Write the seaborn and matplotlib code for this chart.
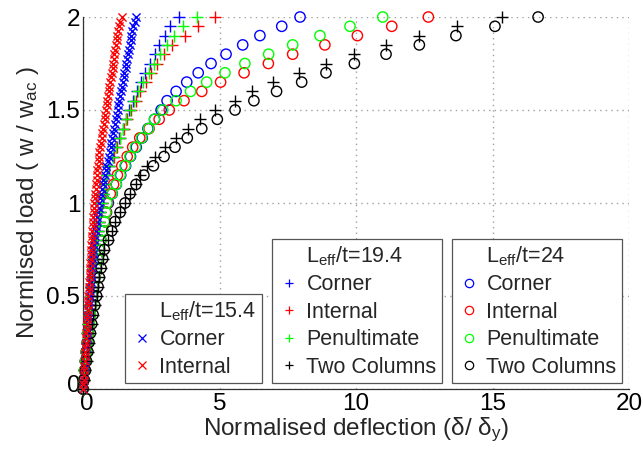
import matplotlib
matplotlib.use("Agg")
import matplotlib.pyplot as plt
import matplotlib.transforms as mtransforms
from matplotlib.lines import Line2D
import seaborn as sns

# ---------------- data ----------------
# load levels (normalised load w/w_ac)
load_step05 = [0.00, 0.05, 0.10, 0.15, 0.20, 0.25, 0.30, 0.35, 0.40, 0.45,
               0.50, 0.55, 0.60, 0.65, 0.70, 0.75, 0.80, 0.85, 0.90, 0.95,
               1.00, 1.05, 1.10, 1.15, 1.20, 1.25, 1.30, 1.35, 1.40, 1.45,
               1.50, 1.55, 1.60, 1.65, 1.70, 1.75, 1.80, 1.85, 1.90, 1.95, 2.00]
load_step025 = [0.000, 0.025, 0.050, 0.075, 0.100, 0.125, 0.150, 0.175, 0.200, 0.225,
                0.250, 0.275, 0.300, 0.325, 0.350, 0.375, 0.400, 0.425, 0.450, 0.475,
                0.500, 0.525, 0.550, 0.575, 0.600, 0.625, 0.650, 0.675, 0.700, 0.725,
                0.750, 0.775, 0.800, 0.825, 0.850, 0.875, 0.900, 0.925, 0.950, 0.975,
                1.000, 1.025, 1.050, 1.075, 1.100, 1.125, 1.150, 1.175, 1.200, 1.225,
                1.250, 1.275, 1.300, 1.325, 1.350, 1.375, 1.400, 1.425, 1.450, 1.475,
                1.500, 1.525, 1.550, 1.575, 1.600, 1.625, 1.650, 1.675, 1.700, 1.725,
                1.750, 1.775, 1.800, 1.825, 1.850, 1.875, 1.900, 1.925, 1.950, 1.975, 2.000]

# Leff/t = 15.4  (x markers)
defl_154_corner = [0.00, 0.01, 0.02, 0.03, 0.05, 0.06, 0.07, 0.08, 0.09, 0.10,
                   0.12, 0.13, 0.14, 0.15, 0.16, 0.18, 0.19, 0.20, 0.21, 0.23,
                   0.24, 0.25, 0.27, 0.28, 0.29, 0.31, 0.32, 0.34, 0.35, 0.37,
                   0.38, 0.40, 0.42, 0.44, 0.46, 0.48, 0.50, 0.52, 0.55, 0.57,
                   0.60, 0.63, 0.66, 0.69, 0.72, 0.75, 0.79, 0.83, 0.86, 0.90,
                   0.94, 0.98, 1.01, 1.04, 1.07, 1.10, 1.13, 1.16, 1.20, 1.23,
                   1.27, 1.30, 1.33, 1.37, 1.40, 1.43, 1.46, 1.49, 1.52, 1.56,
                   1.59, 1.62, 1.66, 1.70, 1.72, 1.75, 1.77, 1.80, 1.84, 1.89, 1.94]
defl_154_internal = [0.00, 0.01, 0.02, 0.03, 0.04, 0.05, 0.06, 0.07, 0.08, 0.09,
                     0.10, 0.11, 0.12, 0.13, 0.14, 0.15, 0.16, 0.17, 0.18, 0.19,
                     0.20, 0.21, 0.22, 0.23, 0.24, 0.25, 0.26, 0.27, 0.28, 0.29,
                     0.30, 0.31, 0.32, 0.33, 0.34, 0.36, 0.37, 0.38, 0.39, 0.41,
                     0.42, 0.44, 0.45, 0.47, 0.48, 0.50, 0.52, 0.53, 0.55, 0.57,
                     0.59, 0.60, 0.62, 0.65, 0.68, 0.71, 0.74, 0.77, 0.79, 0.82,
                     0.84, 0.87, 0.89, 0.92, 0.94, 0.97, 1.00, 1.03, 1.06, 1.09,
                     1.11, 1.13, 1.15, 1.18, 1.20, 1.23, 1.26, 1.29, 1.33, 1.37, 1.42]

# Leff/t = 19.4  (+ markers)
defl_194_corner = [0.00, 0.03, 0.05, 0.08, 0.11, 0.13, 0.16, 0.19, 0.22, 0.25,
                   0.28, 0.31, 0.35, 0.38, 0.42, 0.46, 0.50, 0.54, 0.59, 0.64,
                   0.69, 0.75, 0.82, 0.89, 0.97, 1.09, 1.21, 1.33, 1.45, 1.57,
                   1.70, 1.83, 1.97, 2.12, 2.28, 2.45, 2.62, 2.80, 3.00, 3.19, 3.53]
defl_194_internal = [0.00, 0.03, 0.05, 0.08, 0.11, 0.13, 0.16, 0.19, 0.22, 0.25,
                     0.28, 0.31, 0.35, 0.38, 0.42, 0.46, 0.50, 0.54, 0.59, 0.64,
                     0.69, 0.75, 0.82, 0.89, 0.97, 1.12, 1.24, 1.36, 1.49, 1.62,
                     1.77, 1.93, 2.10, 2.30, 2.50, 2.72, 2.97, 3.25, 3.74, 4.22, 4.84]
defl_194_penult = [0.00, 0.03, 0.05, 0.08, 0.11, 0.13, 0.16, 0.19, 0.22, 0.25,
                   0.28, 0.31, 0.35, 0.38, 0.42, 0.46, 0.50, 0.54, 0.59, 0.64,
                   0.69, 0.75, 0.82, 0.89, 0.97, 1.10, 1.22, 1.34, 1.46, 1.58,
                   1.71, 1.86, 2.02, 2.20, 2.40, 2.60, 2.82, 3.07, 3.35, 3.67, 4.16]
defl_194_twocol = [0.00, 0.04, 0.09, 0.13, 0.18, 0.22, 0.27, 0.32, 0.37, 0.43,
                   0.50, 0.55, 0.60, 0.66, 0.72, 0.78, 0.93, 1.05, 1.17, 1.36,
                   1.54, 1.72, 1.94, 2.10, 2.35, 2.65, 3.00, 3.41, 3.86, 4.29,
                   4.84, 5.57, 6.18, 6.97, 7.90, 8.90, 9.94, 11.10, 12.32, 13.69, 15.34]

# Leff/t = 24  (o markers)
defl_24_corner = [0.00, 0.03, 0.06, 0.09, 0.12, 0.15, 0.19, 0.22, 0.26, 0.30,
                  0.34, 0.38, 0.43, 0.48, 0.53, 0.59, 0.65, 0.72, 0.79, 0.86,
                  0.93, 1.07, 1.22, 1.38, 1.56, 1.74, 1.95, 2.17, 2.38, 2.62,
                  2.86, 3.08, 3.41, 3.80, 4.22, 4.69, 5.24, 5.85, 6.48, 7.28, 7.95]
defl_24_internal = [0.00, 0.03, 0.06, 0.09, 0.12, 0.16, 0.19, 0.23, 0.27, 0.31,
                    0.35, 0.39, 0.44, 0.49, 0.54, 0.60, 0.66, 0.73, 0.80, 0.85,
                    0.90, 1.00, 1.12, 1.26, 1.42, 1.62, 1.82, 2.08, 2.42, 2.79,
                    3.16, 3.70, 4.35, 5.04, 5.90, 6.79, 7.68, 8.86, 10.05, 11.31, 12.65]
defl_24_penult = [0.00, 0.03, 0.06, 0.09, 0.12, 0.16, 0.19, 0.23, 0.27, 0.31,
                  0.35, 0.39, 0.44, 0.49, 0.54, 0.60, 0.66, 0.72, 0.78, 0.83,
                  0.88, 1.06, 1.22, 1.36, 1.54, 1.72, 1.92, 2.15, 2.40, 2.62,
                  2.92, 3.41, 3.94, 4.53, 5.20, 5.93, 6.80, 7.68, 8.68, 9.78, 10.98]
defl_24_twocol = [0.00, 0.04, 0.09, 0.13, 0.18, 0.22, 0.27, 0.32, 0.37, 0.43,
                  0.50, 0.55, 0.60, 0.66, 0.72, 0.78, 0.93, 1.05, 1.17, 1.36,
                  1.54, 1.72, 1.94, 2.23, 2.58, 2.97, 3.37, 3.82, 4.35, 4.92,
                  5.57, 6.26, 7.09, 8.01, 8.90, 9.94, 11.10, 12.32, 13.66, 15.09, 16.67]

series_names = ["Corner", "Internal", "Penultimate", "Two Columns"]
series_colors = ["#0000ff", "#ff0000", "#00ff00", "#000000"]
group_titles = [r"L$_{\mathrm{eff}}$/t=15.4", r"L$_{\mathrm{eff}}$/t=19.4", r"L$_{\mathrm{eff}}$/t=24"]
x_ticks = [0, 5, 10, 15, 20]
y_ticks = [0, 0.5, 1, 1.5, 2]
y_tick_labels = ["0", "0.5", "1", "1.5", "2"]

# ---------------- style ----------------
sns.set_style("white")
plt.rcParams["font.family"] = ["Liberation Sans", "DejaVu Sans"]
plt.rcParams["mathtext.fontset"] = "custom"
plt.rcParams["mathtext.rm"] = "Liberation Sans"
plt.rcParams["mathtext.it"] = "Liberation Sans:italic"

fig = plt.figure(figsize=(6.43, 4.54), dpi=100)
ax = fig.add_axes([83 / 643, 65 / 454, 546 / 643, 372 / 454])

circle_sets = [defl_24_corner, defl_24_internal, defl_24_penult, defl_24_twocol]
plus_sets = [defl_194_corner, defl_194_internal, defl_194_penult, defl_194_twocol]
cross_sets = [defl_154_corner, defl_154_internal]

for d, c in zip(circle_sets, series_colors):
    sns.scatterplot(x=d, y=load_step05, ax=ax, marker="o", s=55, color=c,
                    facecolors="none", edgecolor=c, linewidth=1.0,
                    legend=False, clip_on=False, zorder=3)
for d, c in zip(plus_sets, series_colors):
    sns.scatterplot(x=d, y=load_step05, ax=ax, marker="+", s=85, color=c,
                    linewidth=1.0, legend=False, clip_on=False, zorder=3)
for d, c in zip(cross_sets, series_colors[:2]):
    sns.scatterplot(x=d, y=load_step025, ax=ax, marker="x", s=34, color=c,
                    linewidth=1.0, legend=False, clip_on=False, zorder=3)

ax.set_xlim(0, 20)
ax.set_ylim(0, 2)
ax.set_xticks(x_ticks)
ax.set_xticklabels([str(t) for t in x_ticks])
ax.set_yticks(y_ticks)
ax.set_yticklabels(y_tick_labels)
ax.tick_params(direction="in", length=5, width=0.8, labelsize=17.5, colors="black")
ax.tick_params(axis="x", pad=3)
ax.tick_params(axis="y", pad=2)
ax.grid(True, linestyle=(0, (1, 3)), color="#a0a0a0", linewidth=1.0)
ax.set_axisbelow(True)
for side in ["top", "right"]:
    ax.spines[side].set_visible(False)
for side in ["left", "bottom"]:
    ax.spines[side].set_color("#303030")
    ax.spines[side].set_linewidth(0.9)

# nudge the y-axis "0" label up a little so it clears the x-axis "0"
yzero = ax.get_yticklabels()[0]
yzero.set_transform(yzero.get_transform() +
                    mtransforms.ScaledTranslation(0, 4 / 72, fig.dpi_scale_trans))
xzero = ax.get_xticklabels()[0]
xzero.set_transform(xzero.get_transform() +
                    mtransforms.ScaledTranslation(3 / 72, 0, fig.dpi_scale_trans))

ax.set_xlabel(r"Normalised deflection (δ/ δ$_{\mathrm{y}}$)", fontsize=17.5, labelpad=0.5)
ax.set_ylabel(r"Normlised load ( w / w$_{\mathrm{ac}}$ )", fontsize=17.5, labelpad=4)


def make_legend(markers, n, title, anchor):
    # first row holds the group title (blank handle) so it lines up with the labels
    handles = [Line2D([], [], linestyle="none", marker=None)]
    handles += [Line2D([], [], linestyle="none", marker=markers, markersize=6,
                       markerfacecolor="none", markeredgecolor=series_colors[i],
                       color=series_colors[i], markeredgewidth=0.9)
                for i in range(n)]
    labels = [title] + series_names[:n]
    leg = ax.legend(handles, labels, loc="lower left",
                    bbox_to_anchor=anchor, bbox_transform=fig.transFigure,
                    fontsize=15.5, frameon=True, fancybox=False,
                    framealpha=1, edgecolor="#555555", handlelength=1.1,
                    handletextpad=0.25, borderpad=0.25, labelspacing=0.3,
                    borderaxespad=0)
    leg.get_frame().set_linewidth(0.9)
    return leg


leg1 = make_legend("x", 2, group_titles[0], (125 / 643, 71 / 454))
ax.add_artist(leg1)
leg2 = make_legend("+", 4, group_titles[1], (272 / 643, 71 / 454))
ax.add_artist(leg2)
leg3 = make_legend("o", 4, group_titles[2], (452 / 643, 71 / 454))

fig.savefig("out.png", dpi=100)
